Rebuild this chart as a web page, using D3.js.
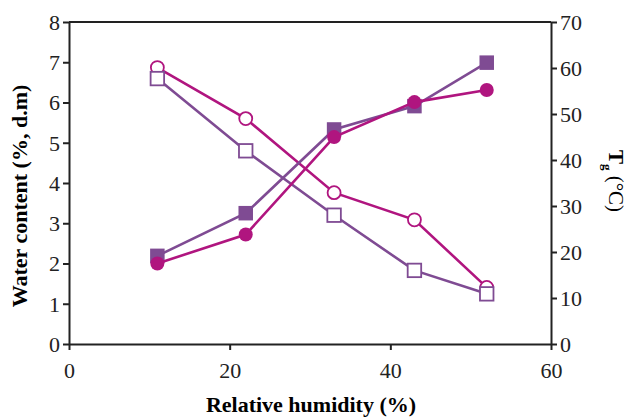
<!DOCTYPE html>
<html>
<head>
<meta charset="utf-8">
<script src="https://cdn.jsdelivr.net/npm/d3@7"></script>
<style>
  body { margin: 0; background: #fff; }
  svg text { font-family: "Liberation Serif", "Times New Roman", serif; }
  .tick text { font-size: 22px; fill: #222; }
  .tick line, .domain { stroke: #222; stroke-width: 2; }
</style>
</head>
<body>
<div id="chart"></div>
<script>
// relative humidity (%)
var humidity = [11, 22, 33, 43, 52];

// water content (%, d.m) - left axis
var waterA = [2.0, 2.72, 5.14, 6.01, 6.31];   // filled circles
var waterB = [2.19, 3.25, 5.33, 5.91, 6.99];  // filled squares

// Tg (°C) - right axis
var tgA = [60.1, 49.0, 32.9, 27.0, 12.3];     // open circles
var tgB = [57.7, 42.0, 28.0, 16.0, 10.9];     // open squares

var xTicks = [0, 20, 40, 60];
var leftTicks = [0, 1, 2, 3, 4, 5, 6, 7, 8];
var rightTicks = [0, 10, 20, 30, 40, 50, 60, 70];

var magenta = "#b0157f";
var purple = "#7f4b93";

var width = 630;
var height = 417;
var plotLeft = 69, plotRight = 551, plotTop = 22, plotBottom = 344;

var svg = d3.select("#chart")
    .append("svg")
    .attr("width", width)
    .attr("height", height);

var x = d3.scaleLinear().domain([0, 60]).range([plotLeft, plotRight]);
var yL = d3.scaleLinear().domain([0, 8]).range([plotBottom, plotTop]);
var yR = d3.scaleLinear().domain([0, 70]).range([plotBottom, plotTop]);

// top frame line
svg.append("line")
    .attr("x1", plotLeft).attr("x2", plotRight)
    .attr("y1", plotTop).attr("y2", plotTop)
    .attr("stroke", "#222")
    .attr("stroke-width", 2);

svg.append("g")
    .attr("class", "xAxis")
    .attr("transform", "translate(0," + plotBottom + ")")
    .call(d3.axisBottom(x).tickValues(xTicks).tickSize(6).tickSizeOuter(0).tickPadding(12));

svg.append("g")
    .attr("class", "yAxis")
    .attr("transform", "translate(" + plotLeft + ",0)")
    .call(d3.axisLeft(yL).tickValues(leftTicks).tickSize(6).tickSizeOuter(0).tickPadding(3));

svg.append("g")
    .attr("class", "yAxis")
    .attr("transform", "translate(" + plotRight + ",0)")
    .call(d3.axisRight(yR).tickValues(rightTicks).tickSize(6).tickSizeOuter(0).tickPadding(3));

svg.selectAll(".yAxis .tick text").attr("dy", "0.34em");

// axis titles
svg.append("text")
    .attr("x", 311)
    .attr("y", 412)
    .attr("text-anchor", "middle")
    .attr("font-size", 22)
    .attr("font-weight", "bold")
    .text("Relative humidity (%)");

svg.append("text")
    .attr("transform", "translate(27,196)rotate(-90)")
    .attr("text-anchor", "middle")
    .attr("font-size", 22)
    .attr("font-weight", "bold")
    .text("Water content (%, d.m)");

var tgLabel = svg.append("text")
    .attr("transform", "translate(609,181)rotate(90)")
    .attr("text-anchor", "middle")
    .attr("font-size", 21);
tgLabel.append("tspan").attr("font-weight", "bold").text("T");
tgLabel.append("tspan").attr("font-size", 13).attr("font-weight", "bold").attr("dy", 6).text("g");
tgLabel.append("tspan").attr("dy", -6).text(" (\u00B0C)");

function series(values, yScale, color, shape, filled) {
    var pts = humidity.map(function(h, i) { return [h, values[i]]; });
    var line = d3.line()
        .x(function(d) { return x(d[0]); })
        .y(function(d) { return yScale(d[1]); });

    svg.append("path")
        .datum(pts)
        .attr("d", line)
        .attr("fill", "none")
        .attr("stroke", color)
        .attr("stroke-width", 2.6);

    var g = svg.append("g");
    if (shape === "circle") {
        g.selectAll("circle").data(pts).enter()
            .append("circle")
            .attr("cx", function(d) { return x(d[0]); })
            .attr("cy", function(d) { return yScale(d[1]); })
            .attr("r", filled ? 7 : 6.5)
            .attr("fill", filled ? color : "#fff")
            .attr("stroke", color)
            .attr("stroke-width", filled ? 0 : 1.8);
    } else {
        var s = filled ? 14.5 : 13.5;
        g.selectAll("rect").data(pts).enter()
            .append("rect")
            .attr("x", function(d) { return x(d[0]) - s / 2; })
            .attr("y", function(d) { return yScale(d[1]) - s / 2; })
            .attr("width", s)
            .attr("height", s)
            .attr("fill", filled ? color : "#fff")
            .attr("stroke", color)
            .attr("stroke-width", filled ? 0 : 1.8);
    }
}

series(tgA, yR, magenta, "circle", false);
series(tgB, yR, purple, "square", false);
series(waterB, yL, purple, "square", true);
series(waterA, yL, magenta, "circle", true);
</script>
</body>
</html>
